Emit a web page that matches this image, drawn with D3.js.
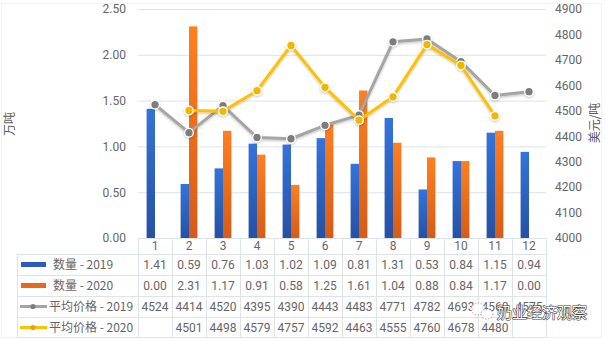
<!DOCTYPE html>
<html>
<head>
<meta charset="utf-8">
<script src="https://cdn.jsdelivr.net/npm/d3@7/dist/d3.min.js"></script>
<style>
  html, body { margin: 0; padding: 0; background: #fff; }
  svg { display: block; }
  text { font-family: Roboto, "Noto Sans CJK SC", sans-serif; }
</style>
</head>
<body>
<svg id="chart" width="606" height="339"></svg>
<script>
// Monthly dairy import volume (10k tonnes) and average price (USD/tonne)
const months = [1, 2, 3, 4, 5, 6, 7, 8, 9, 10, 11, 12];
const qty2019 = [1.41, 0.59, 0.76, 1.03, 1.02, 1.09, 0.81, 1.31, 0.53, 0.84, 1.15, 0.94];
const qty2020 = [0.00, 2.31, 1.17, 0.91, 0.58, 1.25, 1.61, 1.04, 0.88, 0.84, 1.17, 0.00];
const price2019 = [4524, 4414, 4520, 4395, 4390, 4443, 4483, 4771, 4782, 4693, 4560, 4575];
const price2020 = [null, 4501, 4498, 4579, 4757, 4592, 4463, 4555, 4760, 4678, 4480, null];
const leftTicks = [0, 0.5, 1, 1.5, 2, 2.5];
const rightTicks = [4000, 4100, 4200, 4300, 4400, 4500, 4600, 4700, 4800, 4900];
const seriesNames = ["数量 - 2019", "数量 - 2020", "平均价格 - 2019", "平均价格 - 2020"];
const leftTitle = "万吨";
const rightTitle = "美元/吨";

const svg = d3.select("#chart");
const W = 606, H = 339;
const plot = { left: 138, right: 546, top: 9, bottom: 238 };
const textColor = "#656565";
const gridColor = "#dde3ec";

// outer frame
svg.append("rect").attr("x", 1.5).attr("y", 3.5).attr("width", 600).attr("height", 334)
  .attr("fill", "#fff").attr("stroke", "#eef1f5");

const defs = svg.append("defs");
function vGrad(id, top, bottom) {
  const g = defs.append("linearGradient").attr("id", id)
    .attr("x1", 0).attr("y1", 0).attr("x2", 0).attr("y2", 1);
  g.append("stop").attr("offset", "0%").attr("stop-color", top);
  g.append("stop").attr("offset", "100%").attr("stop-color", bottom);
}
vGrad("gBlue", "#3573da", "#2651a3");
vGrad("gOrange", "#ff7f1f", "#d65c17");
const shadow = defs.append("filter").attr("id", "shadow")
  .attr("x", "-10%").attr("y", "-10%").attr("width", "120%").attr("height", "140%");
shadow.append("feDropShadow").attr("dx", 0).attr("dy", 1.2).attr("stdDeviation", 1)
  .attr("flood-color", "#000").attr("flood-opacity", 0.25);

const x = d3.scaleBand().domain(months).range([plot.left, plot.right]).padding(0);
const sub = d3.scaleBand().domain([0, 1]).range([-8.4, 8.4]).padding(0);
const yL = d3.scaleLinear().domain([0, 2.5]).range([plot.bottom, plot.top]);
const yR = d3.scaleLinear().domain([4000, 4900]).range([plot.bottom, plot.top]);

// gridlines
svg.append("g").selectAll("line").data(leftTicks).join("line")
  .attr("x1", plot.left).attr("x2", plot.right)
  .attr("y1", d => yL(d) + 0.5).attr("y2", d => yL(d) + 0.5)
  .attr("stroke", gridColor).attr("stroke-width", 1);

// left axis labels
const axL = svg.append("g").attr("transform", "translate(126,0)")
  .call(d3.axisLeft(yL).tickValues(leftTicks).tickFormat(d3.format(".2f")).tickSize(0).tickPadding(0));
axL.select(".domain").remove();
axL.selectAll("text").attr("fill", textColor).style("font-size", "12px")
  .style("font-family", "Roboto, sans-serif");

// right axis labels
const axR = svg.append("g").attr("transform", "translate(555,0)")
  .call(d3.axisRight(yR).tickValues(rightTicks).tickFormat(d3.format("d")).tickSize(0).tickPadding(0));
axR.select(".domain").remove();
axR.selectAll("text").attr("fill", textColor).style("font-size", "12px")
  .style("font-family", "Roboto, sans-serif");

// axis titles
svg.append("text").attr("transform", "translate(14,124) rotate(-90)")
  .attr("text-anchor", "middle").attr("fill", "#5b5b5b")
  .style("font-size", "12px").style("font-family", "'Noto Sans CJK SC', sans-serif")
  .text(leftTitle);
svg.append("text").attr("transform", "translate(599,123) rotate(-90)")
  .attr("text-anchor", "middle").attr("fill", "#5b5b5b")
  .style("font-size", "12px").style("font-family", "'Noto Sans CJK SC', sans-serif")
  .text(rightTitle);

// bars
const bars = svg.append("g");
[[qty2019, "url(#gBlue)", 0], [qty2020, "url(#gOrange)", 1]].forEach(([vals, fill, k]) => {
  bars.append("g").selectAll("rect").data(months.map((m, i) => ({ m, v: vals[i] }))).join("rect")
    .attr("x", d => x(d.m) + x.bandwidth() / 2 + sub(k))
    .attr("width", sub.bandwidth())
    .attr("y", d => yL(d.v))
    .attr("height", d => yL(0) - yL(d.v))
    .attr("fill", fill);
});

// price lines
function drawLine(vals, stroke, dotFill) {
  const pts = months.map((m, i) => ({ m, v: vals[i] }));
  const line = d3.line().defined(d => d.v != null)
    .x(d => x(d.m) + x.bandwidth() / 2).y(d => yR(d.v));
  const g = svg.append("g").attr("filter", "url(#shadow)");
  g.append("path").datum(pts).attr("d", line).attr("fill", "none")
    .attr("stroke", stroke).attr("stroke-width", 3).attr("stroke-linejoin", "round");
  g.selectAll("circle").data(pts.filter(d => d.v != null)).join("circle")
    .attr("cx", d => x(d.m) + x.bandwidth() / 2).attr("cy", d => yR(d.v))
    .attr("r", 4.3).attr("fill", dotFill).attr("stroke", "#fff").attr("stroke-width", 1.3);
}
drawLine(price2019, "#a5a5a5", "#7d7d7d");
drawLine(price2020, "#ffc000", "#f2b600");

// data table
const rowTops = [254, 275, 296, 317];
const rowH = 21;
const tableLeft = 17;
const tbl = svg.append("g");
// horizontal lines
[238, ...rowTops, 337].forEach((yy, i) => {
  tbl.append("line").attr("x1", i === 0 ? plot.left : tableLeft).attr("x2", plot.right)
    .attr("y1", yy + 0.5).attr("y2", yy + 0.5).attr("stroke", gridColor);
});
// vertical lines
months.concat([13]).forEach(m => {
  const xx = m === 13 ? plot.right : x(m);
  tbl.append("line").attr("x1", xx + 0.5).attr("x2", xx + 0.5)
    .attr("y1", 238).attr("y2", 337).attr("stroke", gridColor);
});
tbl.append("line").attr("x1", tableLeft + 0.5).attr("x2", tableLeft + 0.5)
  .attr("y1", 254).attr("y2", 337).attr("stroke", gridColor);

// category header
tbl.append("g").selectAll("text").data(months).join("text")
  .attr("x", d => x(d) + x.bandwidth() / 2).attr("y", 246).attr("dy", "0.35em")
  .attr("text-anchor", "middle").attr("fill", textColor).style("font-size", "12px")
  .text(d => d);

// cell values
const rowsData = [
  qty2019.map(v => v.toFixed(2)),
  qty2020.map(v => v.toFixed(2)),
  price2019.map(v => v == null ? "" : String(v)),
  price2020.map(v => v == null ? "" : String(v))
];
rowsData.forEach((vals, r) => {
  tbl.append("g").selectAll("text").data(months.map((m, i) => ({ m, t: vals[i] }))).join("text")
    .attr("x", d => x(d.m) + x.bandwidth() / 2).attr("y", rowTops[r] + rowH / 2).attr("dy", "0.35em")
    .attr("text-anchor", "middle").attr("fill", textColor).style("font-size", "12px")
    .text(d => d.t);
});

// legend keys in the first column
const keyY = r => rowTops[r] + rowH / 2;
tbl.append("rect").attr("x", 21).attr("y", keyY(0) - 2.5).attr("width", 25).attr("height", 5).attr("fill", "#2a5cc0");
tbl.append("rect").attr("x", 21).attr("y", keyY(1) - 2.5).attr("width", 25).attr("height", 5).attr("fill", "#e8691c");
[[2, "#a5a5a5", "#7d7d7d"], [3, "#ffc000", "#e0a800"]].forEach(([r, c, dc]) => {
  tbl.append("line").attr("x1", 20).attr("x2", 47).attr("y1", keyY(r)).attr("y2", keyY(r))
    .attr("stroke", c).attr("stroke-width", 3);
  tbl.append("circle").attr("cx", 33).attr("cy", keyY(r)).attr("r", 2.6).attr("fill", dc);
});
const legendX = [53, 53, 49, 49];
seriesNames.forEach((name, r) => {
  tbl.append("text").attr("x", legendX[r]).attr("y", keyY(r)).attr("dy", "0.36em")
    .attr("fill", textColor).style("font-size", "12px")
    .style("font-family", "'Noto Sans CJK SC', sans-serif").text(name);
});

// watermark
const wm = svg.append("g").attr("opacity", 0.85);
wm.append("ellipse").attr("cx", 478).attr("cy", 309).attr("rx", 7).attr("ry", 6)
  .attr("fill", "#fff").attr("stroke", "#777").attr("stroke-width", 0.8).attr("stroke-dasharray", "1.5,1.5");
wm.append("ellipse").attr("cx", 487).attr("cy", 314).attr("rx", 6).attr("ry", 5)
  .attr("fill", "#fff").attr("stroke", "#777").attr("stroke-width", 0.8).attr("stroke-dasharray", "1.5,1.5");
svg.append("text").attr("x", 497).attr("y", 313).attr("dy", "0.36em")
  .attr("fill", "#fff").attr("stroke", "#3a3a3a").attr("stroke-width", 1.1)
  .attr("paint-order", "stroke").style("font-size", "15px")
  .style("font-family", "'Noto Sans CJK SC', sans-serif").text("奶业经济观察");
</script>
</body>
</html>
